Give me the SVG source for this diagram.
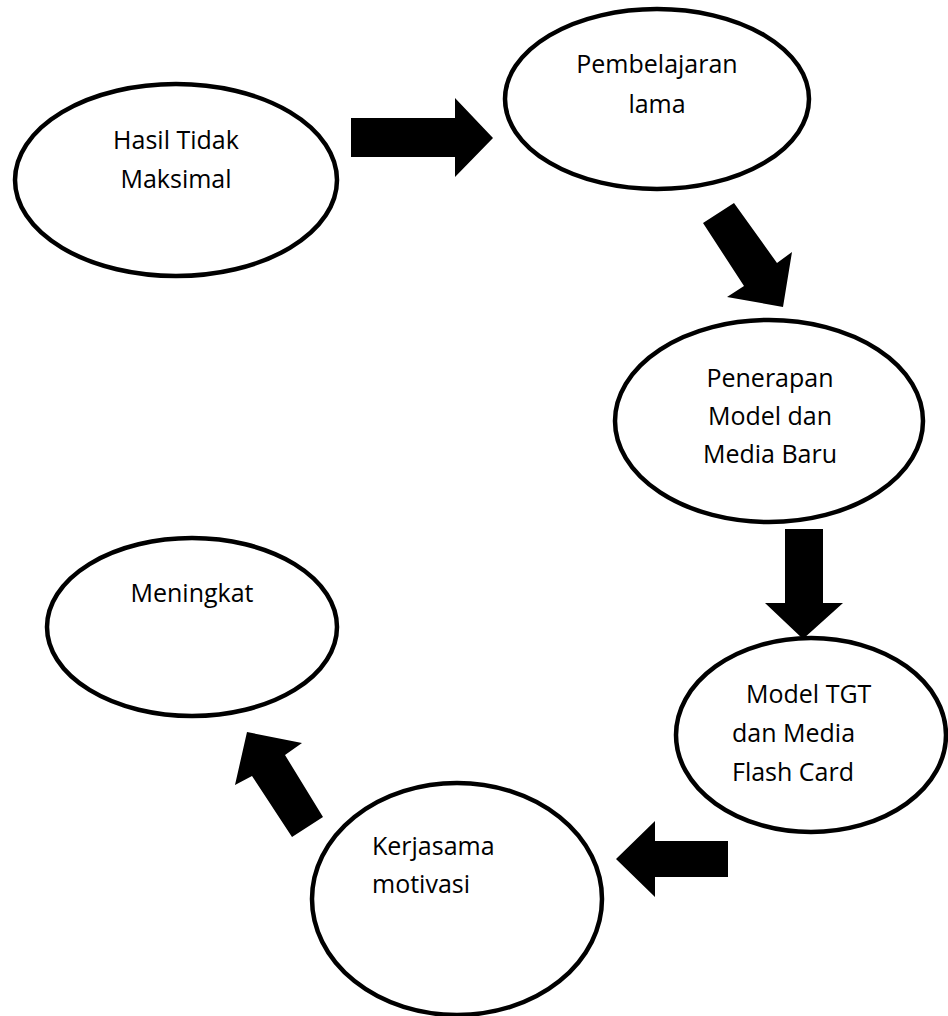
<svg xmlns="http://www.w3.org/2000/svg" width="948" height="1016" viewBox="0 0 948 1016">
<style>
.node ellipse{fill:#ffffff;stroke:#000000;stroke-width:4.5}
.node text{font-family:"Open Sans","Liberation Sans",sans-serif;font-size:25px;fill:#000000}
.c{text-anchor:middle}
.arrow{fill:#000000;stroke:none}
</style>
<rect width="948" height="1016" fill="#ffffff"/>
<g id="connectors">
<polygon class="arrow" points="351,118 455,118 455,98 493,138 455,177 455,157 351,157"/>
<polygon class="arrow" points="703,223 734,203 777,263 792,252 783,307 727,297 744,286"/>
<polygon class="arrow" points="785,529 823,529 823,603 843,603 803,639 765,603 785,603"/>
<polygon class="arrow" points="728,841 655,841 655,821 616,859 655,897 655,877 728,877"/>
<polygon class="arrow" points="247,732 302,743 285,755 323,817 292,837 252,776 235,785"/>
</g>
<g id="node-hasil" class="node">
<ellipse cx="176" cy="180" rx="161" ry="96"/>
<text class="c" x="176" y="149">Hasil Tidak</text>
<text class="c" x="176" y="188">Maksimal</text>
</g>
<g id="node-pembelajaran" class="node">
<ellipse cx="657" cy="99" rx="152" ry="90"/>
<text class="c" x="657" y="73">Pembelajaran</text>
<text class="c" x="657" y="113">lama</text>
</g>
<g id="node-penerapan" class="node">
<ellipse cx="769" cy="421" rx="154" ry="101"/>
<text class="c" x="770" y="387">Penerapan</text>
<text class="c" x="770" y="425">Model dan</text>
<text class="c" x="770" y="463">Media Baru</text>
</g>
<g id="node-tgt" class="node">
<ellipse cx="811" cy="735" rx="135" ry="97"/>
<text x="746" y="703">Model TGT</text>
<text x="732" y="742">dan Media</text>
<text x="732" y="781">Flash Card</text>
</g>
<g id="node-kerjasama" class="node">
<ellipse cx="457" cy="899" rx="145" ry="116"/>
<text x="372" y="855">Kerjasama</text>
<text x="372" y="893">motivasi</text>
</g>
<g id="node-meningkat" class="node">
<ellipse cx="192" cy="627" rx="145" ry="89"/>
<text class="c" x="192" y="602">Meningkat</text>
</g>
</svg>
